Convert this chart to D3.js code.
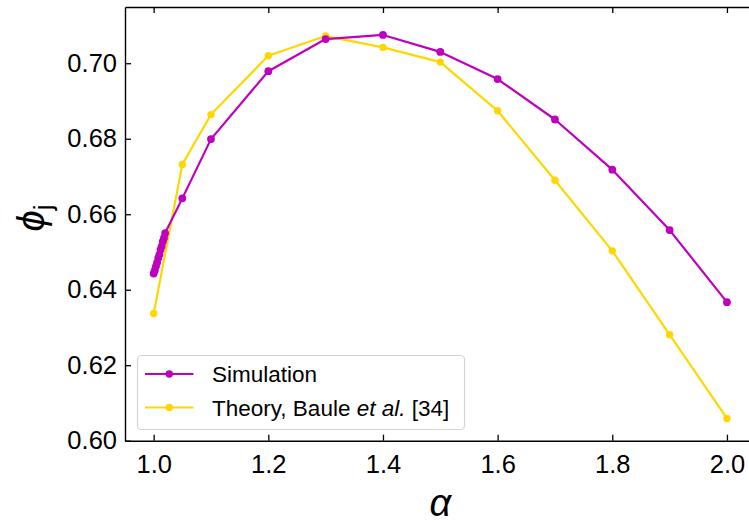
<!DOCTYPE html>
<html>
<head>
<meta charset="utf-8">
<script src="https://cdn.jsdelivr.net/npm/d3@7"></script>
<style>
  html, body { margin: 0; padding: 0; background: #fff; }
  svg { display: block; }
  text { font-family: "Liberation Sans", Arial, Helvetica, sans-serif; }
</style>
</head>
<body>
<svg id="chart" width="749" height="524"></svg>
<script>
// Jamming packing fraction versus alpha
const simAlpha = [1.000, 1.002, 1.004, 1.006, 1.008, 1.010, 1.012, 1.014, 1.016, 1.018, 1.020,
                  1.05, 1.1, 1.2, 1.3, 1.4, 1.5, 1.6, 1.7, 1.8, 1.9, 2.0];
const simPhi   = [0.6443, 0.6451, 0.6462, 0.6472, 0.6484, 0.6493, 0.6506, 0.6515, 0.6528, 0.6537, 0.6550,
                  0.6642, 0.6799, 0.6979, 0.7064, 0.7075, 0.7030, 0.6958, 0.6851, 0.6718, 0.6558, 0.6367];
const theoryAlpha = [1.0, 1.05, 1.1, 1.2, 1.3, 1.4, 1.5, 1.6, 1.7, 1.8, 1.9, 2.0];
const theoryPhi   = [0.6337, 0.6732, 0.6864, 0.7020, 0.7072, 0.7042, 0.7003, 0.6874, 0.6690, 0.6503, 0.6281, 0.6059];
const xTicks = [1.0, 1.2, 1.4, 1.6, 1.8, 2.0];
const yTicks = [0.60, 0.62, 0.64, 0.66, 0.68, 0.70];
const seriesNames = ["Simulation", "Theory"];
const seriesColors = ["#bf00bf", "#ffd700"];

const svg = d3.select("#chart");
const mLeft = 125, mRight = 755.6, mTop = 7, mBottom = 440.7;

const x = d3.scaleLinear().domain([0.95, 2.05]).range([mLeft, mRight]);
const y = d3.scaleLinear().domain([0.60, 0.7149]).range([mBottom, mTop]);

const plot = svg.append("g");

function drawSeries(xs, ys, color, r) {
  const pts = xs.map((a, i) => [a, ys[i]]);
  const line = d3.line().x(d => x(d[0])).y(d => y(d[1]));
  plot.append("path").datum(pts)
    .attr("d", line).attr("fill", "none")
    .attr("stroke", color).attr("stroke-width", 2.2)
    .attr("stroke-linejoin", "round");
  plot.selectAll(null).data(pts).enter().append("circle")
    .attr("cx", d => x(d[0])).attr("cy", d => y(d[1]))
    .attr("r", r).attr("fill", color);
}
drawSeries(theoryAlpha, theoryPhi, seriesColors[1], 3.7);
drawSeries(simAlpha, simPhi, seriesColors[0], 3.9);

// Axes with inward ticks on all four sides
const tickLen = 6;
const fmtX = d3.format(".1f"), fmtY = d3.format(".2f");
const axB = svg.append("g").attr("transform", `translate(0,${mBottom})`)
  .call(d3.axisBottom(x).tickValues(xTicks).tickFormat(fmtX).tickSizeInner(-tickLen).tickSizeOuter(0).tickPadding(14));
const axT = svg.append("g").attr("transform", `translate(0,${mTop})`)
  .call(d3.axisTop(x).tickValues(xTicks).tickFormat("").tickSizeInner(-tickLen).tickSizeOuter(0));
const axL = svg.append("g").attr("transform", `translate(${mLeft},0)`)
  .call(d3.axisLeft(y).tickValues(yTicks).tickFormat(fmtY).tickSizeInner(-tickLen).tickSizeOuter(0).tickPadding(8));
const axR = svg.append("g").attr("transform", `translate(${mRight},0)`)
  .call(d3.axisRight(y).tickValues(yTicks).tickFormat("").tickSizeInner(-tickLen).tickSizeOuter(0));
[axB, axT, axL, axR].forEach(g => {
  g.select(".domain").attr("stroke", "#000").attr("stroke-width", 1.4);
  g.selectAll(".tick line").attr("stroke", "#000").attr("stroke-width", 1.3);
  g.selectAll(".tick text").attr("fill", "#000").attr("font-size", 25.5)
    .attr("font-family", "Liberation Sans, Arial, sans-serif");
});

// Axis titles
svg.append("text")
  .attr("x", (mLeft + mRight) / 2).attr("y", 516)
  .attr("text-anchor", "middle")
  .attr("font-family", "Liberation Serif, DejaVu Serif, serif").attr("font-style", "italic")
  .attr("font-size", 38).text("α");

const yl = svg.append("text")
  .attr("transform", `translate(44,218) rotate(-90)`)
  .attr("text-anchor", "middle")
  .attr("font-family", "DejaVu Serif, serif");
yl.append("tspan").attr("font-style", "italic").attr("font-size", 38).text("ϕ");
yl.append("tspan").attr("font-size", 26).attr("dy", 8).text("j");

// Legend
const lg = svg.append("g");
lg.append("rect").attr("x", 137.5).attr("y", 355.5).attr("width", 327).attr("height", 74)
  .attr("rx", 4).attr("fill", "#fff").attr("fill-opacity", 0.85)
  .attr("stroke", "#d4d4d4").attr("stroke-width", 1.2);
const rows = [
  { name: seriesNames[0], color: seriesColors[0], y: 374 },
  { name: seriesNames[1], color: seriesColors[1], y: 407.5 }
];
rows.forEach(r => {
  lg.append("line").attr("x1", 145).attr("x2", 193.5).attr("y1", r.y).attr("y2", r.y)
    .attr("stroke", r.color).attr("stroke-width", 2.2);
  lg.append("circle").attr("cx", 169.3).attr("cy", r.y).attr("r", 3.7).attr("fill", r.color);
});
lg.append("text").attr("x", 212).attr("y", 374).attr("dy", "0.36em")
  .attr("font-size", 22.5).text(rows[0].name);
const t2 = lg.append("text").attr("x", 212).attr("y", 407.5).attr("dy", "0.36em").attr("font-size", 22.5);
t2.append("tspan").text("Theory, Baule ");
t2.append("tspan").attr("font-style", "italic").text("et al.");
t2.append("tspan").text(" [34]");
</script>
</body>
</html>
